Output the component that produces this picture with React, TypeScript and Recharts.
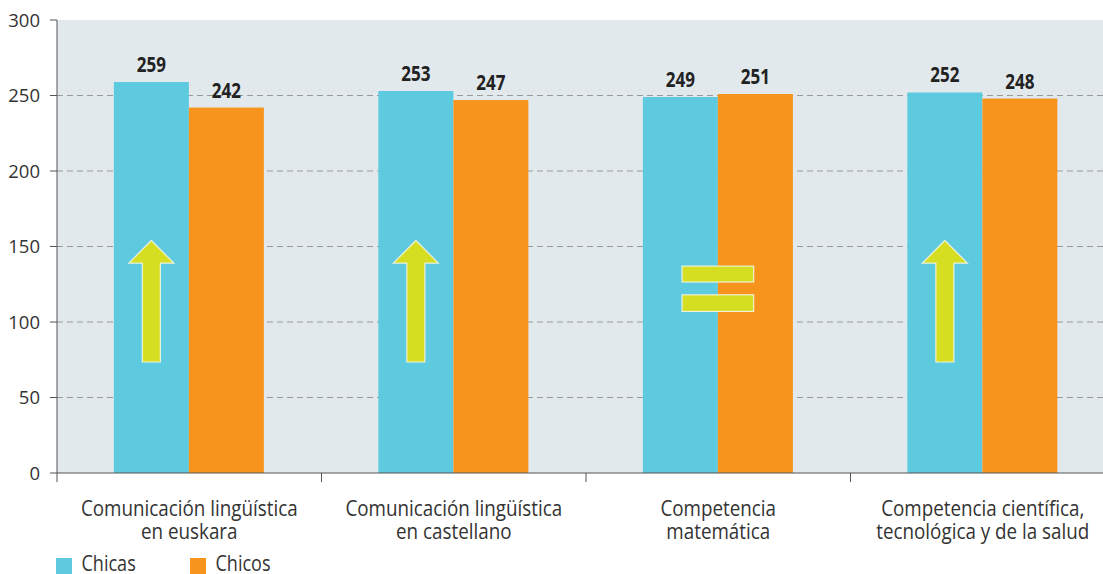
import React from "react";
import { BarChart, Bar, XAxis, YAxis, CartesianGrid, LabelList } from "recharts";

const categories = [
  "Comunicación lingüística\nen euskara",
  "Comunicación lingüística\nen castellano",
  "Competencia\nmatemática",
  "Competencia científica,\ntecnológica y de la salud",
];
const chicas = [259, 253, 249, 252];
const chicos = [242, 247, 251, 248];
const trend = ["up", "up", "equal", "up"];
const yTicks = [0, 50, 100, 150, 200, 250, 300];
const seriesNames = ["Chicas", "Chicos"];

const data = categories.map((c, i) => ({ name: c, chicas: chicas[i], chicos: chicos[i], trend: trend[i] }));

const COL_CHICAS = "#5ecae0";
const COL_CHICOS = "#f7941e";
const COL_MARK = "#d5de21";
const TEXT = "#333333";
const FONT = "'Open Sans', sans-serif";

// marker geometry in value units
const ARROW_TIP = 154;
const ARROW_HEAD = 139;
const ARROW_BASE = 73.5;
const EQ = [[137, 126.5], [118, 107]];

const ChicosShape = (props: any) => {
  const { x, y, width, height, fill, payload } = props;
  const base = y + height;
  const k = height / payload.chicos;
  const py = (v: number) => base - v * k;
  let marker: any = null;
  if (payload.trend === "up") {
    const cx = x - width / 2;
    const hw = width * 0.3;
    const sw = width * 0.12;
    const pts = [
      [cx, py(ARROW_TIP)],
      [cx + hw, py(ARROW_HEAD)],
      [cx + sw, py(ARROW_HEAD)],
      [cx + sw, py(ARROW_BASE)],
      [cx - sw, py(ARROW_BASE)],
      [cx - sw, py(ARROW_HEAD)],
      [cx - hw, py(ARROW_HEAD)],
    ]
      .map((p) => p.join(","))
      .join(" ");
    marker = <polygon points={pts} fill={COL_MARK} stroke="#eef2d8" strokeWidth={1.2} />;
  } else if (payload.trend === "equal") {
    const hw = width * 0.477;
    marker = (
      <g>
        {EQ.map(([a, b], i) => (
          <rect key={i} x={x - hw} y={py(a)} width={hw * 2} height={py(b) - py(a)} fill={COL_MARK} stroke="#eef2d8" strokeWidth={1.2} />
        ))}
      </g>
    );
  }
  return (
    <g>
      <rect x={x} y={y} width={width} height={height} fill={fill} />
      {marker}
    </g>
  );
};

const XTick = (props: any) => {
  const { x, y, payload } = props;
  const lines = String(payload.value).split("\n");
  const off = payload.offset || 0;
  return (
    <g>
      <line x1={x - off} x2={x - off} y1={y - 8} y2={y + 1} stroke="#555" strokeWidth={1} />
      {lines.map((l, i) => (
        <g key={i} transform={`translate(${x},${y + 35 + i * 23}) scale(0.84,1)`}>
          <text x={0} y={0} textAnchor="middle" fill={TEXT} fontSize={22.4} fontFamily={FONT}>
            {l}
          </text>
        </g>
      ))}
    </g>
  );
};

const ValueLabel = (props: any) => {
  const { x, y, width, value } = props;
  const cx = x + width / 2;
  return (
    <g transform={`translate(${cx},${y - 10}) scale(0.83,1)`}>
      <text x={0} y={0} textAnchor="middle" fill="#222" fontSize={20.5} fontWeight="bold" fontFamily={FONT}>
        {value}
      </text>
    </g>
  );
};

const legendColors = [COL_CHICAS, COL_CHICOS];

export default function App() {
  return (
    <div style={{ position: "absolute", left: 0, top: 0, width: 1103, height: 574, background: "#fff", overflow: "hidden" }}>
      <BarChart
        width={1115}
        height={574}
        data={data}
        margin={{ top: 20, right: 0, bottom: 0, left: 0 }}
        barCategoryGap="21.5%"
        barGap={0}
      >
        <CartesianGrid
          vertical={false}
          fill="#e1e9ec"
          stroke="#9a9a9a"
          strokeDasharray="6 4"
          horizontalValues={[50, 100, 150, 200, 250]}
        />
        <XAxis
          dataKey="name"
          tickLine={false}
          axisLine={{ stroke: "#555" }}
          tick={<XTick />}
          interval={0}
          height={101}
        />
        <YAxis
          domain={[0, 300]}
          ticks={yTicks}
          width={57}
          tickSize={7}
          tickMargin={10}
          axisLine={{ stroke: "#555" }}
          tickLine={{ stroke: "#555" }}
          tick={{ fill: TEXT, fontSize: 18.5, fontFamily: FONT }}
        />
        <Bar dataKey="chicas" name="Chicas" fill={COL_CHICAS} isAnimationActive={false}>
          <LabelList dataKey="chicas" content={<ValueLabel />} />
        </Bar>
        <Bar dataKey="chicos" name="Chicos" fill={COL_CHICOS} isAnimationActive={false} shape={<ChicosShape />}>
          <LabelList dataKey="chicos" content={<ValueLabel />} />
        </Bar>
      </BarChart>
      <svg width={400} height={22} style={{ position: "absolute", left: 0, top: 552 }}>
        {seriesNames.map((n, i) => (
          <g key={n} transform={`translate(${56 + i * 134},0)`}>
            <rect x={0} y={6} width={16} height={16} fill={legendColors[i]} />
            <g transform="translate(25.5,19) scale(0.82,1)">
              <text x={0} y={0} fill={TEXT} fontSize={22} fontFamily={FONT}>
                {n}
              </text>
            </g>
          </g>
        ))}
      </svg>
    </div>
  );
}
